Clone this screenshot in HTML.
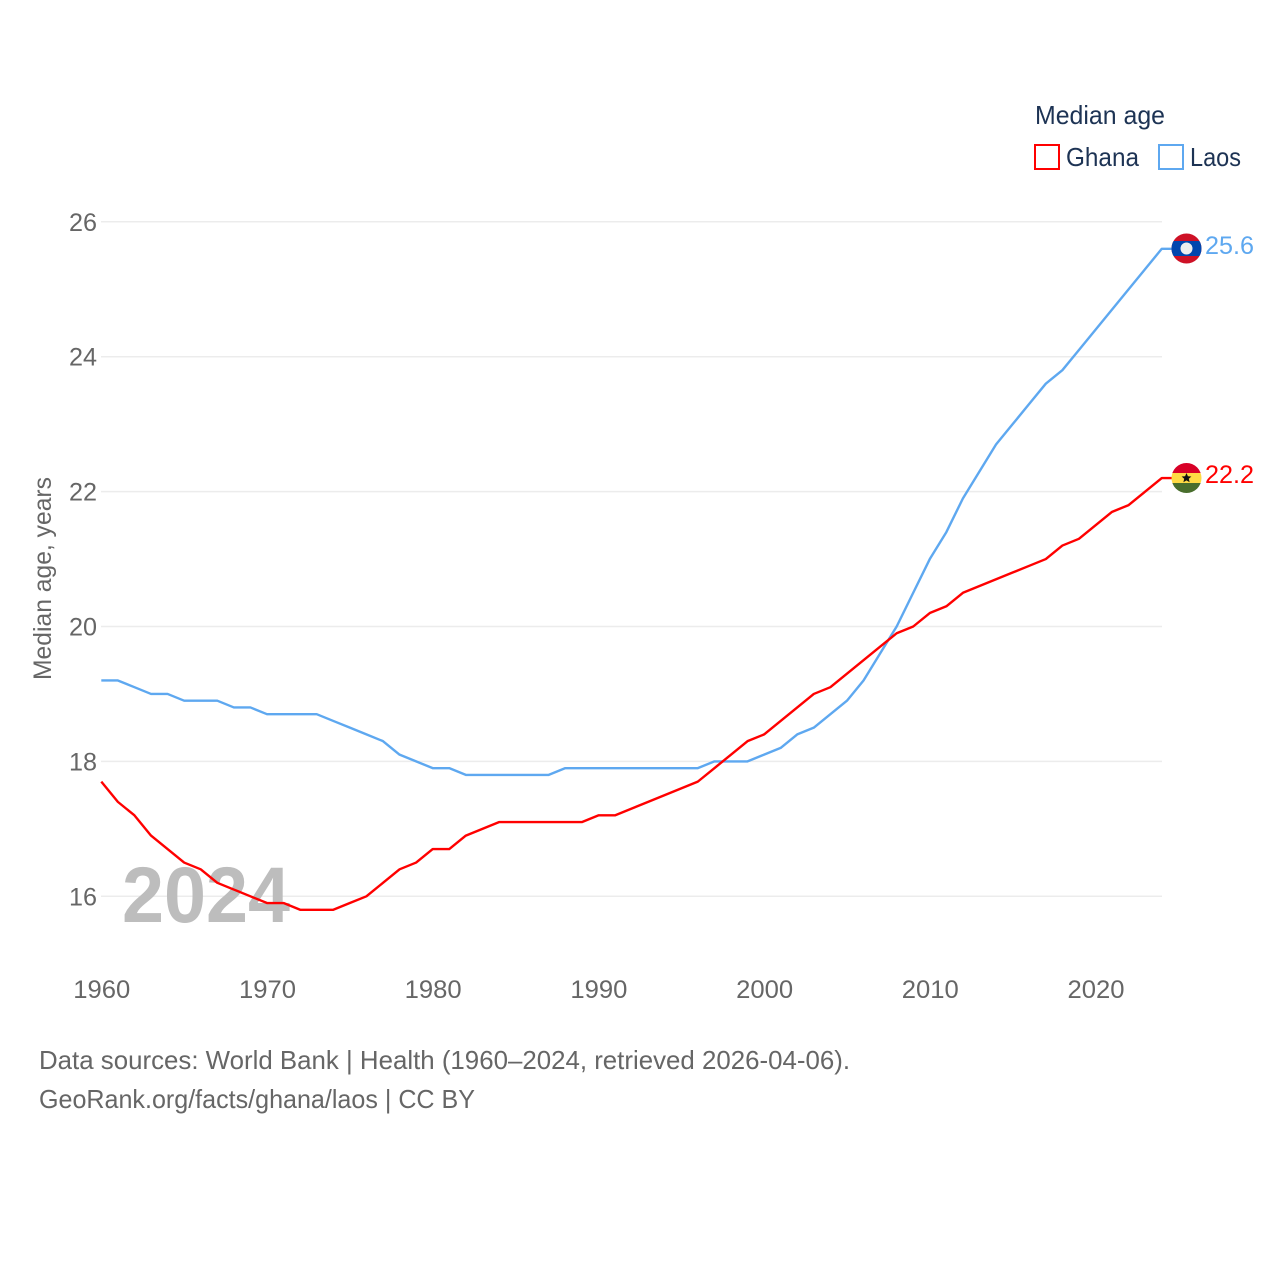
<!DOCTYPE html>
<html>
<head>
<meta charset="utf-8">
<title>Median age: Ghana and Laos</title>
<style>
html,body{margin:0;padding:0;background:#fff;}
svg{display:block;font-family:"Liberation Sans",sans-serif;}
</style>
</head>
<body>
<svg id="chart" width="1280" height="1280" viewBox="0 0 1280 1280" xmlns="http://www.w3.org/2000/svg">
<defs>
<clipPath id="flag-clip-laos"><circle cx="1186.5" cy="248.5" r="15"/></clipPath>
<clipPath id="flag-clip-ghana"><circle cx="1186.5" cy="478" r="15"/></clipPath>
</defs>
<g id="grid"></g>
<text x="122" y="922" font-size="79" font-weight="700" fill="#bdbdbd" textLength="168" lengthAdjust="spacingAndGlyphs">2024</text>
<g id="y-ticks"></g>
<g id="x-ticks"></g>
<text transform="translate(51,680) rotate(-90)" font-size="25" fill="#666" textLength="203" lengthAdjust="spacingAndGlyphs">Median age, years</text>
<g id="series"></g>

<g>
<text x="1035" y="124" font-size="26" fill="#1d3354" textLength="130" lengthAdjust="spacingAndGlyphs">Median age</text>
<g>
<rect x="1035" y="145" width="24" height="24" fill="#fff" stroke="#ff0000" stroke-width="2"/>
<text x="1066" y="166" font-size="26" fill="#1d3354" textLength="73" lengthAdjust="spacingAndGlyphs">Ghana</text>
</g>
<g>
<rect x="1159" y="145" width="24" height="24" fill="#fff" stroke="#5ea8f0" stroke-width="2"/>
<text x="1190" y="166" font-size="26" fill="#1d3354" textLength="51" lengthAdjust="spacingAndGlyphs">Laos</text>
</g>
</g>

<g clip-path="url(#flag-clip-laos)">
<rect x="1171" y="233" width="31" height="31" fill="#ce1126"/>
<rect x="1171" y="241" width="31" height="15" fill="#0046ae"/>
<circle cx="1186.5" cy="248.5" r="6" fill="#eeeeee"/>
</g>
<text x="1205" y="254" font-size="25" fill="#5ea8f0" textLength="49" lengthAdjust="spacingAndGlyphs">25.6</text>

<g clip-path="url(#flag-clip-ghana)">
<rect x="1171" y="463" width="31" height="10" fill="#d80027"/>
<rect x="1171" y="473" width="31" height="10" fill="#ffda44"/>
<rect x="1171" y="483" width="31" height="10" fill="#496e2d"/>
<polygon points="1186.5,473 1187.9,476.2 1191.4,476.5 1188.8,478.8 1189.6,482.2 1186.5,480.4 1183.4,482.2 1184.2,478.8 1181.6,476.5 1185.1,476.2" fill="#111"/>
</g>
<text x="1205" y="483" font-size="25" fill="#ff0000" textLength="49" lengthAdjust="spacingAndGlyphs">22.2</text>

<text x="39" y="1069" font-size="26" fill="#666" textLength="811" lengthAdjust="spacingAndGlyphs">Data sources: World Bank | Health (1960–2024, retrieved 2026-04-06).</text>
<text x="39" y="1108" font-size="26" fill="#666" textLength="436" lengthAdjust="spacingAndGlyphs">GeoRank.org/facts/ghana/laos | CC BY</text>
</svg>
<script>
const startYear = 1960;
const yTickValues = [16, 18, 20, 22, 24, 26];
const xTickValues = [1960, 1970, 1980, 1990, 2000, 2010, 2020];
const ghanaValues = [17.7,17.4,17.2,16.9,16.7,16.5,16.4,16.2,16.1,16.0,15.9,15.9,15.8,15.8,15.8,15.9,16.0,16.2,16.4,16.5,16.7,16.7,16.9,17.0,17.1,17.1,17.1,17.1,17.1,17.1,17.2,17.2,17.3,17.4,17.5,17.6,17.7,17.9,18.1,18.3,18.4,18.6,18.8,19.0,19.1,19.3,19.5,19.7,19.9,20.0,20.2,20.3,20.5,20.6,20.7,20.8,20.9,21.0,21.2,21.3,21.5,21.7,21.8,22.0,22.2];
const laosValues = [19.2,19.2,19.1,19.0,19.0,18.9,18.9,18.9,18.8,18.8,18.7,18.7,18.7,18.7,18.6,18.5,18.4,18.3,18.1,18.0,17.9,17.9,17.8,17.8,17.8,17.8,17.8,17.8,17.9,17.9,17.9,17.9,17.9,17.9,17.9,17.9,17.9,18.0,18.0,18.0,18.1,18.2,18.4,18.5,18.7,18.9,19.2,19.6,20.0,20.5,21.0,21.4,21.9,22.3,22.7,23.0,23.3,23.6,23.8,24.1,24.4,24.7,25.0,25.3,25.6];

const NS = 'http://www.w3.org/2000/svg';
function xScale(year) { return 101.3 + (year - 1960) * 16.57; }
function yScale(v) { return 896.3 - (v - 16) * 67.45; }
function el(parent, tag) {
  const e = document.createElementNS(NS, tag);
  parent.appendChild(e);
  return e;
}

const gridG = document.getElementById('grid');
const yG = document.getElementById('y-ticks');
yTickValues.forEach(function (v) {
  const line = el(gridG, 'line');
  
  
  line.setAttribute('x1', 101);
  line.setAttribute('x2', 1162);
  line.setAttribute('y1', yScale(v));
  line.setAttribute('y2', yScale(v));
  line.setAttribute('stroke', '#ececec');
  line.setAttribute('stroke-width', '1.5');
  const t = el(yG, 'text');
  
  
  t.setAttribute('x', 69);
  t.setAttribute('y', yScale(v) + 9);
  t.setAttribute('font-size', '25');
  t.setAttribute('fill', '#666');
  t.setAttribute('textLength', '28');
  t.setAttribute('lengthAdjust', 'spacingAndGlyphs');
  t.textContent = String(v);
});

const xG = document.getElementById('x-ticks');
xTickValues.forEach(function (y) {
  const t = el(xG, 'text');
  
  
  t.setAttribute('x', xScale(y) - 28);
  t.setAttribute('y', 998);
  t.setAttribute('font-size', '25');
  t.setAttribute('fill', '#666');
  t.setAttribute('textLength', '57');
  t.setAttribute('lengthAdjust', 'spacingAndGlyphs');
  t.textContent = String(y);
});

function drawSeries(values, color, name) {
  const g = document.getElementById('series');
  const pts = values.map(function (v, i) {
    return xScale(startYear + i).toFixed(2) + ',' + yScale(v).toFixed(2);
  });
  const last = values[values.length - 1];
  pts.push('1172,' + yScale(last).toFixed(2));
  const p = el(g, 'polyline');
  
  
  p.setAttribute('points', pts.join(' '));
  p.setAttribute('fill', 'none');
  p.setAttribute('stroke', color);
  p.setAttribute('stroke-width', '2.4');
  p.setAttribute('stroke-linejoin', 'round');
}
drawSeries(laosValues, '#5ea8f0', 'line-laos');
drawSeries(ghanaValues, '#ff0000', 'line-ghana');
</script>
</body>
</html>
